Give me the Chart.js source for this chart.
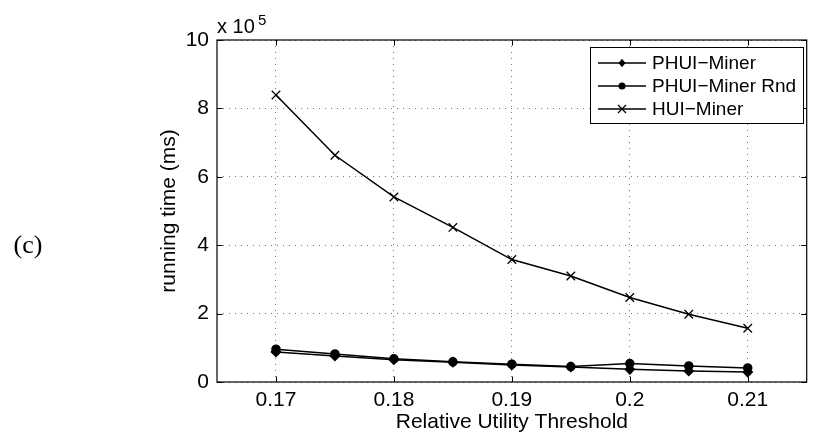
<!DOCTYPE html>
<html>
<head>
<meta charset="utf-8">
<script src="https://cdn.jsdelivr.net/npm/chart.js@4.4.0/dist/chart.umd.min.js"></script>
<style>
    html, body { margin: 0; padding: 0; background: #fff; }
    #wrap { width: 814px; height: 440px; }
</style>
</head>
<body>
<div id="wrap"><canvas id="lineChart" width="814" height="440"></canvas></div>
<script>
// x values: relative utility threshold
const thresholds = [0.17, 0.175, 0.18, 0.185, 0.19, 0.195, 0.2, 0.205, 0.21];
// running time, in units of 10^5 ms (as on the axis)
const phuiMiner    = [0.88, 0.76, 0.65, 0.58, 0.50, 0.44, 0.37, 0.32, 0.29];
const phuiMinerRnd = [0.96, 0.82, 0.68, 0.59, 0.52, 0.45, 0.54, 0.47, 0.41];
const huiMiner     = [8.39, 6.63, 5.41, 4.52, 3.58, 3.10, 2.47, 1.98, 1.57];
const xTicks = [0.17, 0.18, 0.19, 0.2, 0.21];
const yTicks = [0, 2, 4, 6, 8, 10];

const sans = '"Liberation Sans", Arial, sans-serif';
const axisFont = { family: sans, size: 21 };

const toPoints = ys => ys.map((y, i) => ({ x: thresholds[i], y: y }));

function drawMarker(ctx, style, x, y, r) {
    ctx.beginPath();
    if (style === 'rectRot') {
        ctx.moveTo(x - r, y); ctx.lineTo(x, y - r * 1.2);
        ctx.lineTo(x + r, y); ctx.lineTo(x, y + r * 1.2);
        ctx.closePath(); ctx.fill();
    } else if (style === 'circle') {
        ctx.arc(x, y, r, 0, Math.PI * 2); ctx.fill();
    } else {
        ctx.moveTo(x - r, y - r); ctx.lineTo(x + r, y + r);
        ctx.moveTo(x + r, y - r); ctx.lineTo(x - r, y + r);
        ctx.stroke();
    }
}

// box, inward ticks, legend and the figure labels
const matlabFrame = {
    id: 'matlabFrame',
    afterDatasetsDraw(chart) {
        const { ctx, chartArea: a, scales } = chart;
        const t = 5.5;
        ctx.save();
        ctx.strokeStyle = '#000';
        ctx.lineWidth = 1.2;
        ctx.strokeRect(a.left, a.top, a.right - a.left, a.bottom - a.top);
        ctx.lineWidth = 1;
        ctx.beginPath();
        xTicks.forEach(v => {
            const px = Math.round(scales.x.getPixelForValue(v)) + 0.5;
            ctx.moveTo(px, a.bottom); ctx.lineTo(px, a.bottom - t);
            ctx.moveTo(px, a.top); ctx.lineTo(px, a.top + t);
        });
        yTicks.forEach(v => {
            const py = Math.round(scales.y.getPixelForValue(v)) + 0.5;
            ctx.moveTo(a.left, py); ctx.lineTo(a.left + t, py);
            ctx.moveTo(a.right, py); ctx.lineTo(a.right - t, py);
        });
        ctx.stroke();
        ctx.restore();
    },
    afterDraw(chart) {
        const { ctx, chartArea: a } = chart;
        ctx.save();
        // legend
        const bx = 590, by = 47, bw = 213, bh = 76;
        ctx.fillStyle = '#fff';
        ctx.fillRect(bx, by, bw, bh);
        ctx.strokeStyle = '#000';
        ctx.lineWidth = 1;
        ctx.strokeRect(bx + 0.5, by + 0.5, bw, bh);
        ctx.font = '19px ' + sans;
        ctx.textBaseline = 'middle';
        ctx.textAlign = 'left';
        chart.data.datasets.forEach((ds, i) => {
            const y = 63 + i * 23;
            ctx.strokeStyle = '#000';
            ctx.fillStyle = '#000';
            ctx.lineWidth = 1.3;
            ctx.beginPath();
            ctx.moveTo(598, y); ctx.lineTo(646, y);
            ctx.stroke();
            drawMarker(ctx, ds.pointStyle, 622, y, ds.pointStyle === 'crossRot' ? 4 : 3.5);
            ctx.fillText(ds.label, 652, y + 1);
        });
        // exponent label
        ctx.font = '20px ' + sans;
        ctx.textBaseline = 'alphabetic';
        ctx.fillText('x 10', a.left, 33);
        ctx.font = '15px ' + sans;
        ctx.fillText('5', 258, 25);
        // panel label
        ctx.font = '26px "Liberation Serif", "DejaVu Serif", serif';
        ctx.textAlign = 'center';
        ctx.textBaseline = 'middle';
        ctx.fillText('(c)', 28, 246);
        ctx.restore();
    }
};

const lineCtx = document.getElementById('lineChart').getContext('2d');
new Chart(lineCtx, {
    type: 'line',
    data: {
        datasets: [
            { label: 'PHUI\u2212Miner', data: toPoints(phuiMiner), pointStyle: 'rectRot', pointRadius: 4.5 },
            { label: 'PHUI\u2212Miner Rnd', data: toPoints(phuiMinerRnd), pointStyle: 'circle', pointRadius: 4 },
            { label: 'HUI\u2212Miner', data: toPoints(huiMiner), pointStyle: 'crossRot', pointRadius: 6, pointBorderWidth: 1.3 }
        ].map(ds => Object.assign({
            borderColor: '#000',
            backgroundColor: '#000',
            pointBackgroundColor: '#000',
            pointBorderColor: '#000',
            borderWidth: 1.5,
            tension: 0,
            fill: false
        }, ds))
    },
    options: {
        responsive: false,
        animation: false,
        layout: { padding: { left: 156, top: 40, right: 5, bottom: 0 } },
        plugins: { legend: { display: false }, tooltip: { enabled: false } },
        scales: {
            x: {
                type: 'linear',
                min: 0.165,
                max: 0.215,
                afterBuildTicks: s => { s.ticks = xTicks.map(v => ({ value: v })); },
                afterFit: s => { s.height = 58; },
                grid: { color: '#777', lineWidth: 1, drawTicks: false },
                border: { display: false, dash: [1, 5] },
                ticks: { color: '#000', font: axisFont, padding: 6, maxRotation: 0, callback: v => String(+v.toFixed(3)) },
                title: { display: true, text: 'Relative Utility Threshold', color: '#000', font: axisFont, padding: { top: 0, bottom: 5 } }
            },
            y: {
                min: 0,
                max: 10,
                afterBuildTicks: s => { s.ticks = yTicks.map(v => ({ value: v })); },
                afterFit: s => { s.width = 61; },
                grid: { color: '#777', lineWidth: 1, drawTicks: false },
                border: { display: false, dash: [1, 5] },
                ticks: { color: '#000', font: axisFont, padding: 8, callback: v => String(v) },
                title: { display: true, text: 'running time (ms)', color: '#000', font: axisFont, padding: { top: 1, bottom: 0 } }
            }
        }
    },
    plugins: [matlabFrame]
});
</script>
</body>
</html>
